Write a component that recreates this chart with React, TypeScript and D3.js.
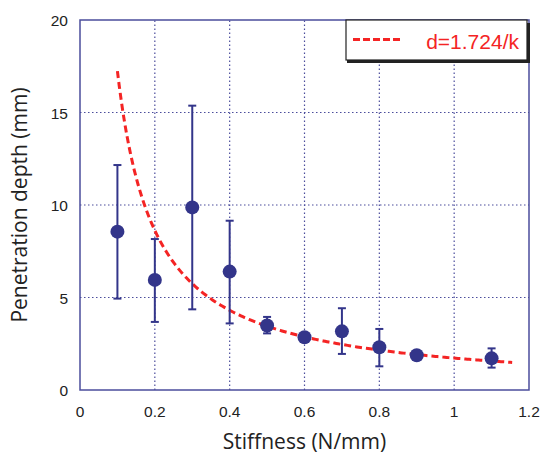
import React from 'react'
import * as d3 from 'd3'

const width = 541
const height = 454
const margin = { top: 20, right: 12, bottom: 64, left: 80 }

// measured stiffness vs penetration depth
const stiffness = [0.1, 0.2, 0.3, 0.4, 0.5, 0.6, 0.7, 0.8, 0.9, 1.1]
const depthMean = [8.56, 5.95, 9.87, 6.4, 3.49, 2.85, 3.17, 2.31, 1.88, 1.71]
const depthHigh = [12.16, 8.16, 15.37, 9.15, 3.95, 3.0, 4.42, 3.3, 1.95, 2.25]
const depthLow = [4.94, 3.68, 4.36, 3.6, 3.06, 2.7, 1.95, 1.28, 1.8, 1.21]

const xTicks = [0, 0.2, 0.4, 0.6, 0.8, 1, 1.2]
const yTicks = [0, 5, 10, 15, 20]
const fitCoef = 1.724
const fitRange = [0.1, 1.155]

const navy = '#33358a'
const frame = '#4b4d9c'
const red = '#f42424'
const titleFont = "'Open Sans', 'DejaVu Sans', sans-serif"
const tickFont = "'Liberation Sans', Arial, sans-serif"

export default function App() {
  const x = d3.scaleLinear().domain([0, 1.2]).range([margin.left, width - margin.right])
  const y = d3.scaleLinear().domain([0, 20]).range([height - margin.bottom, margin.top])

  const fitPts = d3.range(fitRange[0], fitRange[1] + 1e-9, 0.005).map(k => [k, fitCoef / k] as [number, number])
  const fitLine = d3.line<[number, number]>().x(d => x(d[0])).y(d => y(d[1]))(fitPts) || ''

  const x0 = x(0), x1 = x(1.2), y0 = y(0), y1 = y(20)

  return (
    <svg width={width} height={height} style={{ position: 'absolute', left: 0, top: 0 }} fontFamily={tickFont}>
      <rect width={width} height={height} fill='white' />

      {/* grid */}
      {xTicks.slice(1, -1).map(t => (
        <line key={'gx' + t} x1={x(t)} x2={x(t)} y1={y0} y2={y1} stroke={frame} strokeWidth={1.2} strokeDasharray='1.5,2.5' />
      ))}
      {yTicks.slice(1, -1).map(t => (
        <line key={'gy' + t} x1={x0} x2={x1} y1={y(t)} y2={y(t)} stroke={frame} strokeWidth={1.2} strokeDasharray='1.5,2.5' />
      ))}

      {/* frame */}
      <rect x={x0} y={y1} width={x1 - x0} height={y0 - y1} fill='none' stroke={frame} strokeWidth={1.5} />

      {/* tick labels */}
      {xTicks.map(t => (
        <text key={'tx' + t} x={x(t)} y={y0 + 27} textAnchor='middle' fontSize={15.5} fill='#222'>{d3.format('~g')(t)}</text>
      ))}
      {yTicks.map(t => (
        <text key={'ty' + t} x={x0 - 12} y={y(t) + 6} textAnchor='end' fontSize={15.5} fill='#222'>{t}</text>
      ))}

      {/* fit curve */}
      <path d={fitLine} fill='none' stroke={red} strokeWidth={3} strokeDasharray='7,4' />

      {/* error bars and points */}
      {stiffness.map((k, i) => (
        <g key={'p' + i}>
          <line x1={x(k)} x2={x(k)} y1={y(depthHigh[i])} y2={y(depthLow[i])} stroke={navy} strokeWidth={2} />
          <line x1={x(k) - 4} x2={x(k) + 4} y1={y(depthHigh[i])} y2={y(depthHigh[i])} stroke={navy} strokeWidth={2} />
          <line x1={x(k) - 4} x2={x(k) + 4} y1={y(depthLow[i])} y2={y(depthLow[i])} stroke={navy} strokeWidth={2} />
          <circle cx={x(k)} cy={y(depthMean[i])} r={7} fill={navy} />
        </g>
      ))}

      {/* legend */}
      <rect x={347} y={23} width={183} height={40} fill='#222' />
      <rect x={346} y={20} width={181} height={40} fill='white' stroke='#222' strokeWidth={1.2} />
      <line x1={353} x2={400} y1={39.5} y2={39.5} stroke={red} strokeWidth={3} strokeDasharray='7,3' />
      <text x={519} y={49} textAnchor='end' fontSize={21} fill={red}>d=1.724/k</text>

      {/* axis titles */}
      <text x={(x0 + x1) / 2} y={449} textAnchor='middle' fontSize={21} fill='#222' fontFamily={titleFont}>Stiffness (N/mm)</text>
      <text transform={`translate(27,${(y0 + y1) / 2}) rotate(-90)`} textAnchor='middle' fontSize={21} fill='#222' fontFamily={titleFont}>Penetration depth (mm)</text>
    </svg>
  )
}
